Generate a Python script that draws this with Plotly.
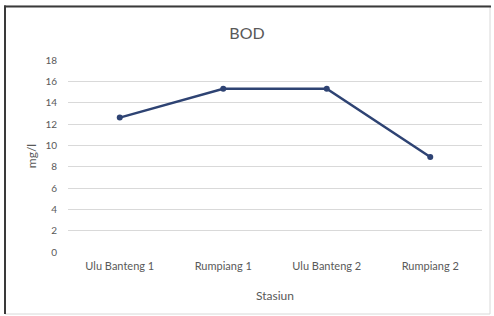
import plotly.graph_objects as go

stations = ["Ulu Banteng 1", "Rumpiang 1", "Ulu Banteng 2", "Rumpiang 2"]
bod_values = [12.6, 15.3, 15.3, 8.9]
y_ticks = [0, 2, 4, 6, 8, 10, 12, 14, 16, 18]

W, H = 494, 316
ML, MR, MT, MB = 68, 12, 60, 64
PW, PH = W - ML - MR, H - MT - MB

def px(x):
    return (x - ML) / PW

def py(y):
    return (H - MB - y) / PH

fig = go.Figure()
fig.add_trace(go.Scatter(
    x=stations, y=bod_values, mode="lines+markers",
    line=dict(color="#2E4373", width=2.5),
    marker=dict(color="#2E4373", size=6),
    showlegend=False,
))

gray = "#595959"
fig.update_layout(
    width=W, height=H,
    margin=dict(l=ML, r=MR, t=MT, b=MB),
    paper_bgcolor="white", plot_bgcolor="white",
    font=dict(family="Lato, Open Sans, sans-serif", color=gray, size=10),
    title=dict(text="BOD", x=0.5, xanchor="center", y=1 - 33 / H, yanchor="middle",
               font=dict(size=16, color=gray)),
    xaxis=dict(type="category", range=[-0.5, 3.5], showgrid=False, zeroline=False,
               showline=False, ticks="", tickfont=dict(size=11, color=gray),
               ticklabelstandoff=6,
               title=dict(text="Stasiun", font=dict(size=12, color=gray), standoff=20)),
    yaxis=dict(range=[0, 18], tickvals=y_ticks, showgrid=True, gridcolor="#D9D9D9",
               gridwidth=1, zeroline=False, showline=False, ticks="",
               tickfont=dict(size=10, color=gray), ticklabelstandoff=10,
               title=dict(text="mg/l", font=dict(size=12, color=gray), standoff=6)),
)

# Outer frame
fig.add_shape(type="rect", xref="paper", yref="paper", x0=px(5), x1=px(490), y0=py(6), y1=py(314),
              line=dict(color="#D8D8D8", width=1), layer="below")
fig.add_shape(type="rect", xref="paper", yref="paper", x0=px(4), x1=px(491), y0=py(7.5), y1=py(5.5),
              line=dict(width=0), fillcolor="#3A3A3A")
fig.add_shape(type="rect", xref="paper", yref="paper", x0=px(4), x1=px(6), y0=py(5.5), y1=py(314),
              line=dict(width=0), fillcolor="#3A3A3A")

fig.write_html("out.html", config={"displayModeBar": False},
               post_script="document.body.style.margin='0';")
